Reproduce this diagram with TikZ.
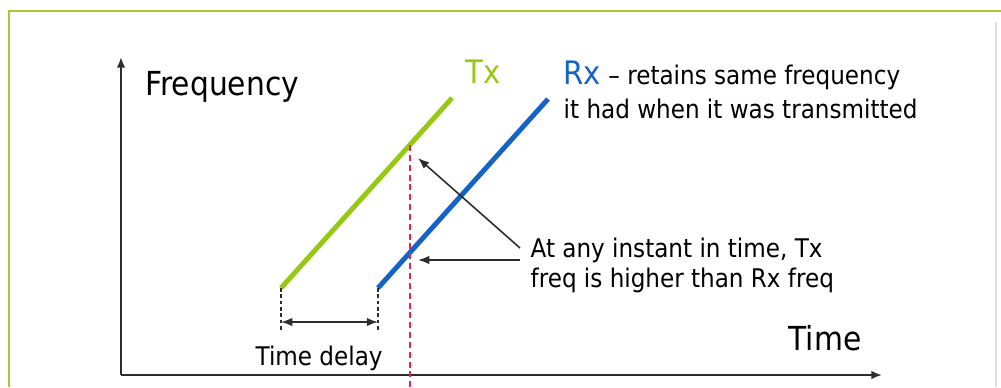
\documentclass[tikz,border=0pt]{standalone}
\usepackage{fontspec}
\setmainfont{DejaVu Sans Condensed}
\usetikzlibrary{arrows.meta, positioning}
\definecolor{txgreen}{RGB}{150,200,20}
\definecolor{rxblue}{RGB}{20,100,200}
\definecolor{cutred}{RGB}{225,40,80}
\definecolor{framegreen}{RGB}{165,205,50}
\definecolor{inkgray}{RGB}{45,45,45}

\begin{document}
\begin{tikzpicture}[x=0.01cm, y=-0.01cm,
  axis/.style={draw=inkgray, line width=0.55pt, -{Latex[length=3pt,width=2.4pt]}},
  sweep/.style={line width=1.4pt},
  drop/.style={draw=inkgray, line width=0.4pt, dash pattern=on 1pt off 0.8pt},
  pointer/.style={draw=inkgray, line width=0.45pt, -{Latex[length=3.2pt,width=2.4pt]}},
  biglbl/.style={inner sep=0pt, anchor=base west, font=\fontsize{9.4}{11}\selectfont},
  smalllbl/.style={inner sep=0pt, anchor=base west, align=left, font=\fontsize{7.3}{9.4}\selectfont}]
  \useasboundingbox (0,0) rectangle (1001,387);
  % frame
  \draw[framegreen, line width=0.6pt] (9,387) -- (9,11) -- (1001,11);
  \draw[black!12, line width=0.3pt] (996,22) -- (996,387);

  % axes
  \coordinate (origin) at (121,375);
  \coordinate (ytip) at (121,57);
  \coordinate (xtip) at (882,375);
  \draw[axis] (origin) -- (ytip);
  \draw[axis] (origin) -- (xtip);
  \node[biglbl] (freq) at (145,95) {Frequency};
  \node[biglbl] (time) at (788,350) {Time};

  % chirps
  \coordinate (txlo) at (281,288);
  \coordinate (txhi) at (452,98);
  \coordinate (rxlo) at (378,288);
  \coordinate (rxhi) at (548,99);
  \draw[sweep, txgreen] (txlo) -- (txhi);
  \draw[sweep, rxblue] (rxlo) -- (rxhi);
  \node[biglbl, text=txgreen, font=\fontsize{9.2}{11}\selectfont] (tx) at (465,83) {Tx};
  \node[smalllbl, font=\fontsize{7.3}{9.6}\selectfont] (rx) at (563,118)
    {{\fontsize{9.2}{11}\selectfont\color{rxblue}Rx} -- retains same frequency\\it had when it was transmitted};

  % instant
  \coordinate (cuttop) at (410,145);
  \coordinate (cutbot) at (410,387);
  \draw[cutred, line width=0.6pt, dash pattern=on 1.7pt off 1.1pt] (cuttop) -- (cutbot);

  % delay
  \coordinate (txdrop) at (281,332);
  \coordinate (rxdrop) at (378,332);
  \draw[drop] (txlo) -- (txdrop);
  \draw[drop] (rxlo) -- (rxdrop);
  \coordinate (delayl) at (281,322);
  \coordinate (delayr) at (378,322);
  \draw[pointer, {Latex[length=3.2pt,width=2.4pt]}-{Latex[length=3.2pt,width=2.4pt]}] (delayl) -- (delayr);
  \node[smalllbl] (delay) at (255,365) {Time delay};

  % callout
  \node[smalllbl, font=\fontsize{7.3}{8.3}\selectfont] (note) at (530,287)
    {At any instant in time, Tx\\freq is higher than Rx freq};
  \coordinate (ptx) at (520,248);
  \coordinate (prx) at (520,260);
  \coordinate (hitx) at (418,158);
  \coordinate (hirx) at (418,260);
  \draw[pointer] (ptx) -- (hitx);
  \draw[pointer] (prx) -- (hirx);
\end{tikzpicture}
\end{document}
